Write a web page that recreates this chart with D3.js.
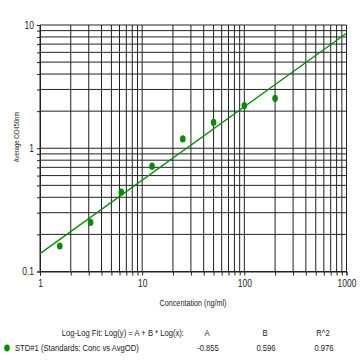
<!DOCTYPE html>
<html><head><meta charset="utf-8">
<script src="https://cdn.jsdelivr.net/npm/d3@7"></script>
<style>
body{margin:0;background:#fff;}
text{font-family:"Liberation Sans","Arial",sans-serif;fill:#222;}
</style></head><body>
<svg id="c" width="364" height="361"></svg>
<script>
const concentrations=[1.5625,3.125,6.25,12.5,25,50,100,200];
const avgOD=[0.161,0.25,0.44,0.715,1.19,1.62,2.22,2.54];
const fitA=-0.855, fitB=0.596, fitR2=0.976;
const xTickLabels=["1","10","100","1000"];
const yTickLabels=["0.1","1","10"];
const legendHeaders=["A","B","R^2"];
const legendValues=["-0.855","0.596","0.976"];

const svg=d3.select("#c");
const x=d3.scaleLog().domain([1,1000]).range([40,346.5]);
const y=d3.scaleLog().domain([0.1,10]).range([271.5,25]);
const green="#0a8a0a";
const SX=0.85;
function ctext(px,py,str,size,anchor){
  return svg.append("g").attr("transform",`translate(${px},${py}) scale(${SX},1)`)
   .append("text").attr("text-anchor",anchor||"start").attr("font-size",size).text(str);
}

const xs=[],ys=[];
for(let d=1;d<1000;d*=10)for(let k=1;k<10;k++)xs.push(d*k);
xs.push(1000);
for(let d=0.1;d<9;d*=10)for(let k=1;k<10;k++)ys.push(+(d*k).toPrecision(3));
ys.push(10);

const g=svg.append("g");
g.selectAll(".vg").data(xs).enter().append("line")
 .attr("x1",d=>x(d)).attr("x2",d=>x(d)).attr("y1",y(10)).attr("y2",y(0.1))
 .attr("stroke","#222").attr("stroke-width",1);
g.selectAll(".hg").data(ys).enter().append("line")
 .attr("y1",d=>y(d)).attr("y2",d=>y(d)).attr("x1",x(1)).attr("x2",x(1000))
 .attr("stroke","#222").attr("stroke-width",1);

// axes
const xa=d3.axisBottom(x).tickValues(xs).tickSize(4).tickFormat(d=>xTickLabels.includes(String(d))?String(d):"");
svg.append("g").attr("transform",`translate(0,${y(0.1)})`).call(xa)
 .call(s=>{s.select(".domain").attr("stroke","#222");s.selectAll("line").attr("stroke","#222");
   s.selectAll("text").attr("font-size",10).attr("dy","0.9em").attr("font-family",null)
    .attr("transform","scale(0.85,1)").attr("fill","#222");});
const ya=d3.axisLeft(y).tickValues(ys).tickSize(3).tickFormat(d=>yTickLabels.includes(String(d))?String(d):"");
svg.append("g").attr("transform",`translate(${x(1)},0)`).call(ya)
 .call(s=>{s.select(".domain").attr("stroke","#222");s.selectAll("line").attr("stroke","#222");
   s.selectAll("text").attr("font-size",10).attr("font-family",null).attr("fill","#222")
    .each(function(){const t=d3.select(this);t.attr("transform","scale(0.85,1)").attr("x",-6/0.85);});});

// fit line
const lineData=[1,1000].map(v=>[v,Math.pow(10,fitA+fitB*Math.log10(v))]);
svg.append("path").datum(lineData)
 .attr("d",d3.line().x(d=>x(d[0])).y(d=>y(d[1])))
 .attr("stroke",green).attr("stroke-width",1.3).attr("fill","none");

// points
svg.selectAll(".pt").data(concentrations).enter().append("ellipse")
 .attr("cx",d=>x(d)).attr("cy",(d,i)=>y(avgOD[i])).attr("rx",2.8).attr("ry",3.6).attr("fill",green);

// titles
ctext(193,306,"Concentation (ng/ml)",8.5,"middle");
svg.append("g").attr("transform","translate(19,137) rotate(-90) scale(0.85,1)")
 .append("text").attr("text-anchor","middle").attr("font-size",7).text("Average OD450nm");

// legend
ctext(184,336,"Log-Log Fit: Log(y) = A + B * Log(x):",9,"end");
const cols=[207,265,323];
legendHeaders.forEach((h,i)=>ctext(cols[i],336,h,9,"middle"));
legendValues.forEach((h,i)=>ctext(cols[i]+1,351,h,9,"middle"));
svg.append("ellipse").attr("cx",7).attr("cy",348).attr("rx",2.8).attr("ry",3.4).attr("fill",green);
ctext(15,351,"STD#1 (Standards: Conc vs AvgOD)",9,"start");
</script></body></html>
